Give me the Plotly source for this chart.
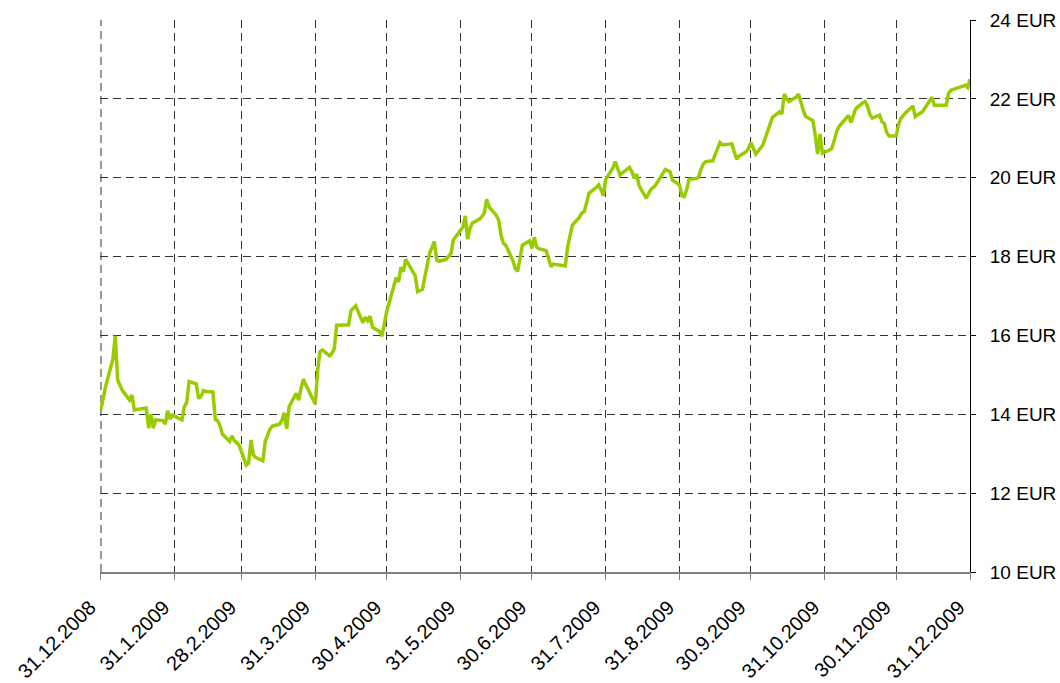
import plotly.graph_objects as go

# daily closing prices
dates = [
    "2008-12-31", "2009-01-02", "2009-01-05", "2009-01-06", "2009-01-07", "2009-01-08", "2009-01-09",
    "2009-01-12", "2009-01-13", "2009-01-14", "2009-01-15", "2009-01-16", "2009-01-19", "2009-01-20",
    "2009-01-21", "2009-01-22", "2009-01-23", "2009-01-26", "2009-01-27", "2009-01-28", "2009-01-29",
    "2009-01-30", "2009-02-02", "2009-02-03", "2009-02-04", "2009-02-05", "2009-02-06", "2009-02-09",
    "2009-02-10", "2009-02-11", "2009-02-12", "2009-02-13", "2009-02-16", "2009-02-17", "2009-02-18",
    "2009-02-19", "2009-02-20", "2009-02-23", "2009-02-24", "2009-02-25", "2009-02-26", "2009-02-27",
    "2009-03-02", "2009-03-03", "2009-03-04", "2009-03-05", "2009-03-06", "2009-03-09", "2009-03-10",
    "2009-03-11", "2009-03-12", "2009-03-13", "2009-03-16", "2009-03-17", "2009-03-18", "2009-03-19",
    "2009-03-20", "2009-03-23", "2009-03-24", "2009-03-25", "2009-03-26", "2009-03-27", "2009-03-30",
    "2009-03-31", "2009-04-01", "2009-04-02", "2009-04-03", "2009-04-06", "2009-04-07", "2009-04-08",
    "2009-04-09", "2009-04-13", "2009-04-14", "2009-04-15", "2009-04-16", "2009-04-17", "2009-04-20",
    "2009-04-21", "2009-04-22", "2009-04-23", "2009-04-24", "2009-04-27", "2009-04-28", "2009-04-29",
    "2009-04-30", "2009-05-04", "2009-05-05", "2009-05-06", "2009-05-07", "2009-05-08", "2009-05-11",
    "2009-05-12", "2009-05-13", "2009-05-14", "2009-05-15", "2009-05-18", "2009-05-19", "2009-05-20",
    "2009-05-21", "2009-05-22", "2009-05-25", "2009-05-26", "2009-05-27", "2009-05-28", "2009-05-29",
    "2009-06-01", "2009-06-02", "2009-06-03", "2009-06-04", "2009-06-05", "2009-06-08", "2009-06-09",
    "2009-06-10", "2009-06-11", "2009-06-12", "2009-06-15", "2009-06-16", "2009-06-17", "2009-06-18",
    "2009-06-19", "2009-06-22", "2009-06-23", "2009-06-24", "2009-06-25", "2009-06-26", "2009-06-29",
    "2009-06-30", "2009-07-01", "2009-07-02", "2009-07-03", "2009-07-06", "2009-07-07", "2009-07-08",
    "2009-07-09", "2009-07-10", "2009-07-13", "2009-07-14", "2009-07-15", "2009-07-16", "2009-07-17",
    "2009-07-20", "2009-07-21", "2009-07-22", "2009-07-23", "2009-07-24", "2009-07-27", "2009-07-28",
    "2009-07-29", "2009-07-30", "2009-07-31", "2009-08-03", "2009-08-04", "2009-08-05", "2009-08-06",
    "2009-08-07", "2009-08-10", "2009-08-11", "2009-08-12", "2009-08-13", "2009-08-14", "2009-08-17",
    "2009-08-18", "2009-08-19", "2009-08-20", "2009-08-21", "2009-08-24", "2009-08-25", "2009-08-26",
    "2009-08-27", "2009-08-28", "2009-08-31", "2009-09-01", "2009-09-02", "2009-09-03", "2009-09-04",
    "2009-09-07", "2009-09-08", "2009-09-09", "2009-09-10", "2009-09-11", "2009-09-14", "2009-09-15",
    "2009-09-16", "2009-09-17", "2009-09-18", "2009-09-21", "2009-09-22", "2009-09-23", "2009-09-24",
    "2009-09-25", "2009-09-28", "2009-09-29", "2009-09-30", "2009-10-01", "2009-10-02", "2009-10-05",
    "2009-10-06", "2009-10-07", "2009-10-08", "2009-10-09", "2009-10-12", "2009-10-13", "2009-10-14",
    "2009-10-15", "2009-10-16", "2009-10-19", "2009-10-20", "2009-10-21", "2009-10-22", "2009-10-23",
    "2009-10-26", "2009-10-27", "2009-10-28", "2009-10-29", "2009-10-30", "2009-11-02", "2009-11-03",
    "2009-11-04", "2009-11-05", "2009-11-06", "2009-11-09", "2009-11-10", "2009-11-11", "2009-11-12",
    "2009-11-13", "2009-11-16", "2009-11-17", "2009-11-18", "2009-11-19", "2009-11-20", "2009-11-23",
    "2009-11-24", "2009-11-25", "2009-11-26", "2009-11-27", "2009-11-30", "2009-12-01", "2009-12-02",
    "2009-12-03", "2009-12-04", "2009-12-07", "2009-12-08", "2009-12-09", "2009-12-10", "2009-12-11",
    "2009-12-14", "2009-12-15", "2009-12-16", "2009-12-17", "2009-12-18", "2009-12-21", "2009-12-22",
    "2009-12-23", "2009-12-28", "2009-12-29", "2009-12-30", "2009-12-31",
]

prices = [
    14.13, 14.72, 15.40, 15.99, 14.87, 14.75, 14.60,
    14.36, 14.49, 14.11, 14.12, 14.14, 14.16, 13.65,
    14.00, 13.65, 13.86, 13.84, 13.75, 14.09, 13.88,
    13.98, 13.90, 13.86, 14.19, 14.30, 14.83, 14.77,
    14.40, 14.45, 14.60, 14.58, 14.57, 13.87, 13.84,
    13.70, 13.50, 13.31, 13.45, 13.33, 13.28, 13.22,
    12.71, 12.76, 13.35, 12.97, 12.90, 12.82, 13.31,
    13.45, 13.63, 13.70, 13.75, 13.85, 14.04, 13.63,
    14.19, 14.53, 14.36, 14.65, 14.89, 14.75, 14.40,
    14.26, 15.10, 15.59, 15.63, 15.48, 15.55, 15.67,
    16.26, 16.26, 16.27, 16.63, 16.70, 16.75, 16.32,
    16.46, 16.37, 16.49, 16.21, 16.10, 15.98, 16.35,
    16.60, 17.47, 17.36, 17.73, 17.62, 17.93, 17.62,
    17.51, 17.11, 17.14, 17.17, 18.08, 18.25, 18.38,
    17.91, 17.88, 17.93, 18.00, 18.08, 18.42, 18.50,
    18.75, 19.03, 18.44, 18.72, 18.85, 18.95, 19.01,
    19.11, 19.45, 19.26, 19.05, 18.93, 18.55, 18.34,
    18.29, 17.90, 17.70, 17.62, 18.00, 18.29, 18.40,
    18.21, 18.49, 18.24, 18.20, 18.15, 17.95, 17.74,
    17.81, 17.80, 17.77, 17.76, 18.25, 18.52, 18.80,
    19.00, 19.11, 19.14, 19.40, 19.61, 19.75, 19.82,
    19.70, 19.54, 19.96, 20.25, 20.41, 20.20, 20.07,
    20.12, 20.26, 20.15, 19.98, 20.09, 19.80, 19.48,
    19.60, 19.71, 19.75, 19.82, 20.11, 20.21, 20.18,
    20.15, 19.94, 19.82, 19.54, 19.52, 19.70, 19.96,
    19.98, 20.01, 20.21, 20.35, 20.41, 20.43, 20.60,
    20.75, 20.89, 20.83, 20.85, 20.86, 20.65, 20.47,
    20.55, 20.66, 20.75, 20.89, 20.75, 20.60, 20.83,
    21.00, 21.23, 21.40, 21.53, 21.67, 21.62, 22.12,
    22.00, 21.93, 22.05, 22.12, 21.87, 21.70, 21.55,
    21.45, 21.08, 20.60, 21.11, 20.62, 20.70, 20.75,
    20.95, 21.17, 21.30, 21.53, 21.58, 21.40, 21.60,
    21.75, 21.90, 21.93, 21.80, 21.60, 21.51, 21.59,
    21.42, 21.38, 21.15, 21.06, 21.06, 21.35, 21.51,
    21.59, 21.65, 21.82, 21.55, 21.60, 21.64, 21.67,
    21.95, 22.04, 21.84, 21.84, 21.84, 21.84, 22.14,
    22.22, 22.32, 22.35, 22.29, 22.50,
]

tick_dates = [
    "2008-12-31", "2009-01-31", "2009-02-28", "2009-03-31", "2009-04-30", "2009-05-31", "2009-06-30",
    "2009-07-31", "2009-08-31", "2009-09-30", "2009-10-31", "2009-11-30", "2009-12-31",
]
tick_labels = [
    "31.12.2008", "31.1.2009", "28.2.2009", "31.3.2009", "30.4.2009", "31.5.2009", "30.6.2009",
    "31.7.2009", "31.8.2009", "30.9.2009", "31.10.2009", "30.11.2009", "31.12.2009",
]

y_ticks = [10, 12, 14, 16, 18, 20, 22, 24]
y_labels = ["10 EUR", "12 EUR", "14 EUR", "16 EUR", "18 EUR", "20 EUR", "22 EUR", "24 EUR"]

fig = go.Figure()

fig.add_trace(go.Scatter(
    x=dates, y=prices,
    mode="lines",
    line=dict(color="#99CC00", width=3.5),
    showlegend=False,
))

grid_color = "#333333"
grid_dash = "8px,5px"

# plotly drops the grid line on the left edge, so draw that one as a shape
fig.add_shape(
    type="line", xref="x", yref="paper",
    x0=tick_dates[0], x1=tick_dates[0], y0=0, y1=1,
    line=dict(color=grid_color, width=1, dash=grid_dash),
    layer="below",
)

fig.update_layout(
    width=1060, height=683,
    margin=dict(l=100, r=90, t=20, b=111),
    paper_bgcolor="white",
    plot_bgcolor="white",
    font=dict(family="Liberation Sans, Arial, sans-serif", size=19, color="black"),
    xaxis=dict(
        type="date",
        # start a few hours early so the first dashed grid line stays inside the plot
        range=["2008-12-30 14:00", "2009-12-31"],
        tickvals=tick_dates,
        ticktext=tick_labels,
        tickangle=-45,
        tickfont=dict(size=20),
        automargin=False,
        showgrid=True,
        gridcolor=grid_color,
        griddash=grid_dash,
        gridwidth=1,
        showline=True,
        linecolor="#808080",
        linewidth=1.5,
        ticks="outside",
        ticklen=6,
        tickcolor="#808080",
        ticklabelstandoff=8,
        ticklabelshift=-11,
        zeroline=False,
    ),
    yaxis=dict(
        side="right",
        range=[10, 24],
        tickvals=y_ticks,
        ticktext=y_labels,
        automargin=False,
        showgrid=True,
        gridcolor=grid_color,
        griddash=grid_dash,
        gridwidth=1,
        showline=True,
        linecolor="black",
        linewidth=1,
        ticks="outside",
        ticklen=5,
        tickcolor="black",
        ticklabelstandoff=10,
        zeroline=False,
    ),
)

# drop the default body margin so the figure fills the window exactly
fig.write_html(
    "out.html",
    config={"displayModeBar": False},
    post_script="document.body.style.margin = '0';",
)
